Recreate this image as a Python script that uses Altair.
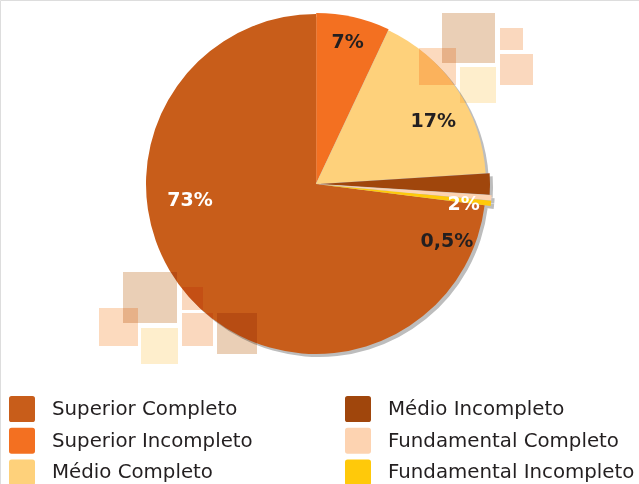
import altair as alt
import pandas as pd

# ---- data ----
categories = ["Superior Completo", "Superior Incompleto", "Médio Completo",
              "Médio Incompleto", "Fundamental Completo", "Fundamental Incompleto"]
values = [73, 7, 17, 2, 0.5, 0.5]
label_texts = ["73%", "7%", "17%", "2%", "", "0,5%"]

# ---- styling / layout ----
pie_order = [6, 1, 2, 3, 4, 5]          # clockwise from 12 o'clock
colors = ["#C85D1A", "#F37021", "#FED17B", "#A0460C", "#FDD3B1", "#FFC90A"]
label_colors = ["#FFFFFF", "#231F20", "#231F20", "#FFFFFF", "#231F20", "#231F20"]
explode = [0, 1, 0, 4, 6, 6]
label_radius = [127, 144, 133, 145, 0, 137]
label_shift_deg = [34, 0, 6, 8, 0, 18]

CX, CY, R = 316, 184, 170
SHADOW = 3

# decorative translucent squares (non-data ornament)
decor_x = [442, 500, 500, 419, 460, 123, 99, 141, 182, 182, 217]
decor_x2 = [495, 523, 533, 456, 496, 177, 138, 178, 203, 213, 257]
decor_y = [13, 28, 54, 48, 67, 272, 308, 328, 287, 313, 313]
decor_y2 = [63, 50, 85, 85, 103, 323, 346, 364, 310, 346, 354]
decor_c = ["#EACFB6", "#FAD8BE", "#FAD8BE", "#FCDABE", "#FEEECC",
           "#EACFB6", "#FCDABE", "#FEEECC", "#FAD8BE", "#FAD8BE", "#EACFB6"]

df = pd.DataFrame({
    "category": categories,
    "value": values,
    "order": pie_order,
    "lab": label_texts,
    "lc": label_colors,
    "ex": explode,
    "lr": label_radius,
    "ls": label_shift_deg,
})

decor = pd.DataFrame({"x": decor_x, "x2": decor_x2, "y": decor_y, "y2": decor_y2, "c": decor_c})

theta_scale = alt.Scale(domain=[0, 1], range=[0, 6.283185307179586])

base = (
    alt.Chart(df)
    .transform_window(cum="sum(value)", sort=[alt.SortField("order")], frame=[None, 0])
    .transform_joinaggregate(total="sum(value)")
    .transform_calculate(start="(datum.cum - datum.value) / datum.total")
    .transform_calculate(end="datum.cum / datum.total")
    .transform_calculate(mid="(datum.start + datum.end) / 2")
    .transform_calculate(px=f"{CX} + datum.ex * sin(2 * PI * datum.mid)")
    .transform_calculate(py=f"{CY} - datum.ex * cos(2 * PI * datum.mid)")
    .transform_calculate(sx=f"datum.px + {SHADOW}")
    .transform_calculate(sy=f"datum.py + {SHADOW}")
    .transform_calculate(lt="datum.mid + datum.ls / 360")
)

shadow = base.mark_arc(outerRadius=R, color="#BDBDBD").encode(
    theta=alt.Theta("start:Q", scale=theta_scale, stack=False),
    theta2="end:Q",
    x=alt.X("sx:Q", scale=None),
    y=alt.Y("sy:Q", scale=None),
)

pie = base.mark_arc(outerRadius=R).encode(
    theta=alt.Theta("start:Q", scale=theta_scale, stack=False),
    theta2="end:Q",
    x=alt.X("px:Q", scale=None),
    y=alt.Y("py:Q", scale=None),
    color=alt.Color(
        "category:N",
        scale=alt.Scale(domain=categories, range=colors),
        legend=alt.Legend(
            title=None,
            orient="none",
            legendX=9,
            legendY=396,
            columns=2,
            direction="vertical",
            columnPadding=92,
            rowPadding=5.7,
            symbolType="M-0.8,-1L0.8,-1Q1,-1 1,-0.8L1,0.8Q1,1 0.8,1L-0.8,1Q-1,1 -1,0.8L-1,-0.8Q-1,-1 -0.8,-1Z",
            symbolSize=676,
            symbolStrokeWidth=0,
            symbolOpacity=1,
            labelFont="DejaVu Sans",
            labelFontSize=19.8,
            labelColor="#231F20",
            labelOffset=17,
            labelLimit=400,
            padding=0,
        ),
    ),
)

decor_layer = alt.Chart(decor).mark_rect(blend="multiply").encode(
    x=alt.X("x:Q", scale=None),
    x2="x2:Q",
    y=alt.Y("y:Q", scale=None),
    y2="y2:Q",
    color=alt.Color("c:N", scale=None),
)

labels = base.mark_text(font="DejaVu Sans", fontWeight="bold", fontSize=19,
                        align="center", baseline="middle").encode(
    x=alt.X("px:Q", scale=None),
    y=alt.Y("py:Q", scale=None),
    theta=alt.Theta("lt:Q", scale=theta_scale, stack=False),
    radius=alt.Radius("lr:Q", scale=None),
    text="lab:N",
    color=alt.Color("lc:N", scale=None),
)

chart = (
    alt.layer(shadow, pie, decor_layer, labels)
    .properties(width=639, height=484, autosize=alt.AutoSizeParams(type="none"), padding=0)
    .configure_view(stroke=None)
    .configure(background="white")
)

chart.save("out.html", embed_options={"renderer": "svg", "actions": False})
